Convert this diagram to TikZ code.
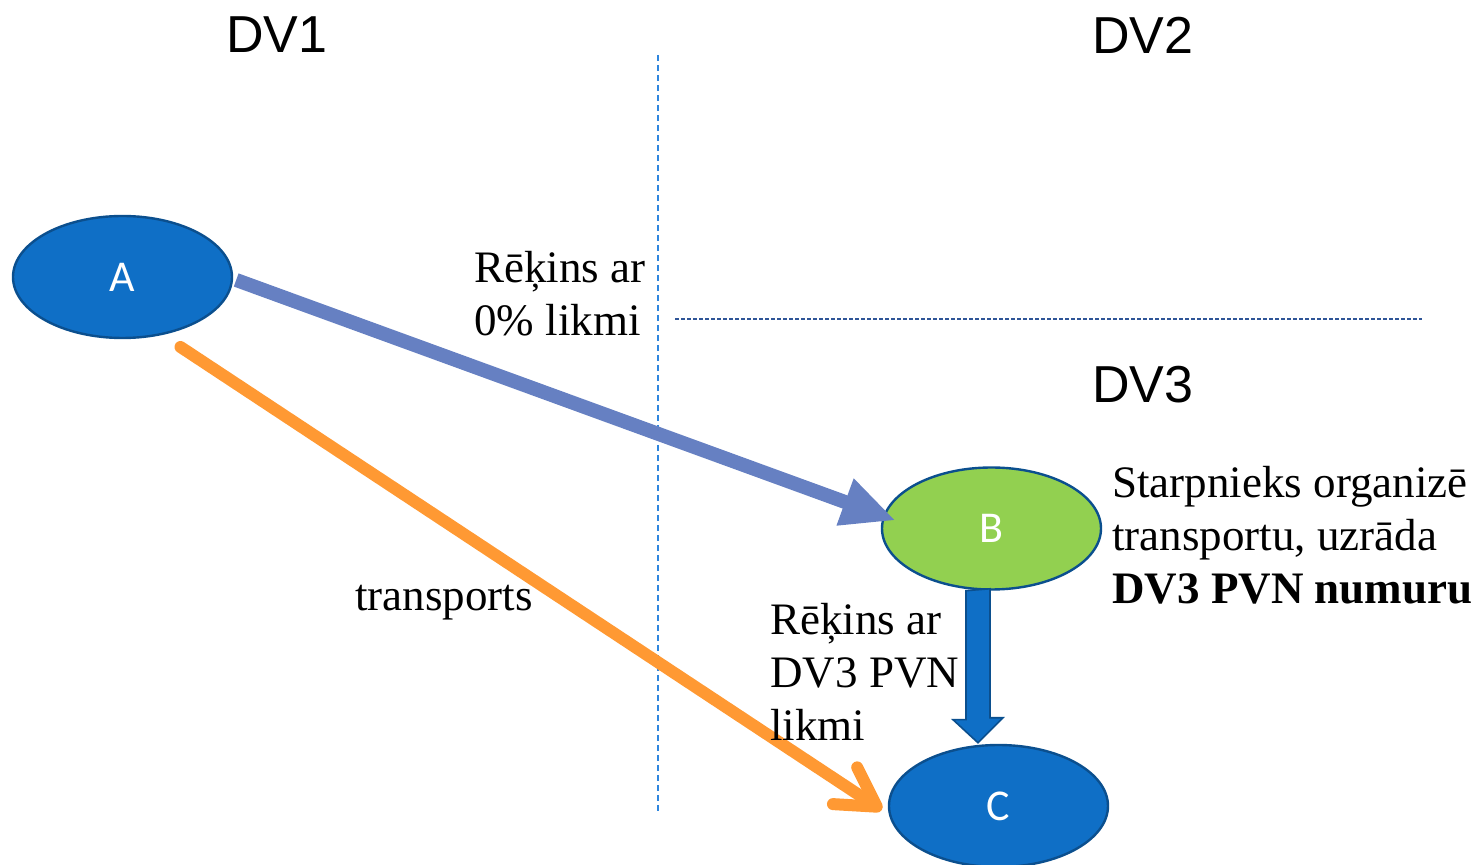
\documentclass[tikz,border=0pt]{standalone}
\usepackage{fontspec}
\setmainfont{Liberation Serif}
\newfontfamily\arialf{Liberation Sans}
\newfontfamily\calf{Carlito}
\usetikzlibrary{arrows.meta,shapes.geometric,calc}
\definecolor{nodeblue}{HTML}{0F6FC6}
\definecolor{nodeborder}{HTML}{0B4F8E}
\definecolor{nodegreen}{HTML}{92D050}
\definecolor{arrblue}{HTML}{6680C2}
\definecolor{arrorange}{HTML}{FF9933}
\definecolor{dashblue}{HTML}{2E86DE}
\definecolor{dashdark}{HTML}{2F5597}
\tikzset{
  ell/.style={ellipse, draw=nodeborder, line width=1.2pt, minimum width=109.5pt, minimum height=61pt, inner sep=0pt, text=white, font=\calf\fontsize{22pt}{25pt}\selectfont},
  region/.style={font=\arialf\fontsize{26pt}{30pt}\selectfont, inner sep=0pt},
  lbl/.style={font=\fontsize{22.5pt}{26.5pt}\selectfont, align=left, inner sep=0pt, anchor=base west},
  bluearr/.style={draw=arrblue, line width=7pt, -{Triangle[length=27pt,width=23pt]}},
  orangearr/.style={draw=arrorange, line width=6pt, line cap=round, -{Straight Barb[length=19pt,width=22pt,round]}},
  blockarr/.style={fill=nodeblue, draw=nodeborder, line width=0.8pt, line join=miter},
}
\begin{document}
\begin{tikzpicture}[x=0.5pt,y=-0.5pt]
\useasboundingbox (0,0) rectangle (1480,865);
% dashed separators
\draw[dashblue, line width=0.6pt, dash pattern=on 3pt off 2pt] (658,55) -- (658,812);
\draw[dashdark, line width=0.7pt, dash pattern=on 1.8pt off 1.2pt] (675,319) -- (1422,319);
% region titles
\node[region] (dv1) at (277,35) {DV1};
\node[region] (dv2) at (1143,35) {DV2};
\node[region] (dv3) at (1143,385) {DV3};
% nodes
\node[ell, fill=nodeblue] (A) at (122.5,277) {A};
\node[ell, fill=nodegreen] (B) at (991.5,528.5) {B};
\node[ell, fill=nodeblue] (C) at (998.5,806) {C};
% arrows
\draw[bluearr] ([shift={(3,3)}]A.east) -- ([shift={(15,-8)}]B.west);
\draw[orangearr] ([shift={(58,70)}]A.center) -- ([shift={(-6,4)}]C.west);
\coordinate (bs) at ([xshift=-6.75pt]B.south);
\coordinate (ct) at ([xshift=-10.25pt,yshift=0.5pt]C.north);
\draw[blockarr] (bs) ++(-12,0) -- ++(0,129) -- ++(-13,0) -- (ct) -- ++(25,-25) -- ++(-13,0) -- ++(0,-129) -- cycle;
% labels (anchor at the baseline of the last line)
\node[lbl] (l1) at (474,336) {Rēķins ar\\0\% likmi};
\node[lbl] (l2) at (355,611) {transports};
\node[lbl] (l3) at (770,741) {Rēķins ar\\DV3 PVN\\likmi};
\node[lbl] (l4) at (1112,604) {Starpnieks organizē\\transportu, uzrāda\\\textbf{DV3 PVN numuru}};
\end{tikzpicture}
\end{document}
